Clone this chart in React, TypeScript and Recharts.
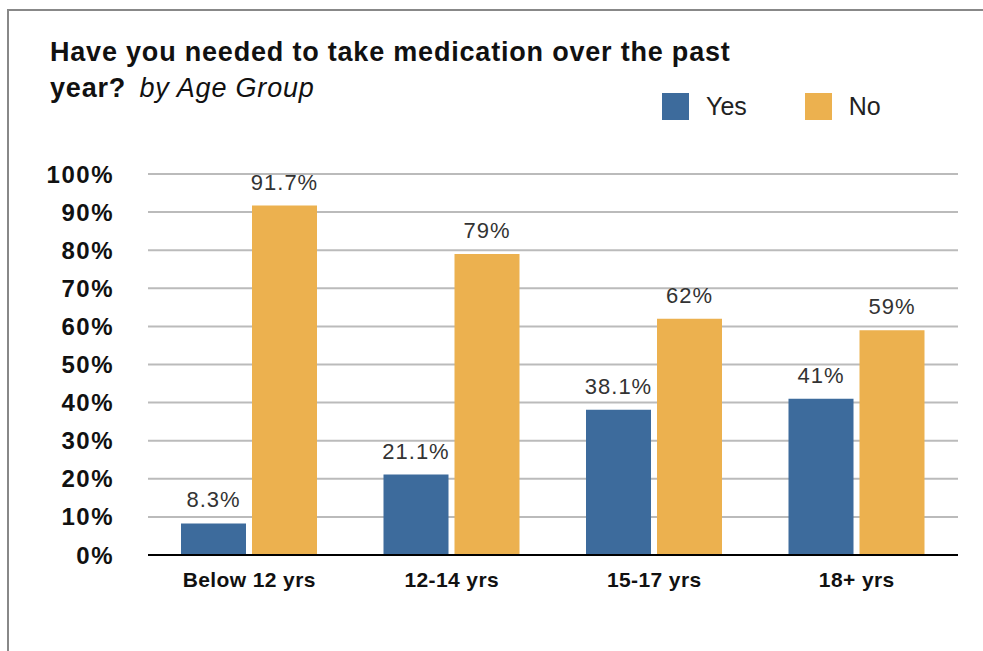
import { BarChart, Bar, CartesianGrid, XAxis, YAxis, LabelList } from "recharts";

const ageGroups = ["Below 12 yrs", "12-14 yrs", "15-17 yrs", "18+ yrs"];
const yesValues = [8.3, 21.1, 38.1, 41];
const noValues = [91.7, 79, 62, 59];
const percentTicks = [0, 10, 20, 30, 40, 50, 60, 70, 80, 90, 100];

const data = ageGroups.map((group, i) => ({
  group,
  yes: yesValues[i],
  no: noValues[i],
}));

const FONT = "'Liberation Sans', Helvetica, Arial, sans-serif";
const BLUE = "#3d6b9c";
const ORANGE = "#ecb14f";

function LegendBox() {
  const items = [
    { label: "Yes", color: BLUE },
    { label: "No", color: ORANGE },
  ];
  return (
    <div
      style={{
        position: "absolute",
        left: 662,
        top: 92,
        display: "flex",
        fontFamily: FONT,
        fontSize: 25,
        color: "#222",
      }}
    >
      {items.map((it) => (
        <div key={it.label} style={{ display: "flex", alignItems: "center", marginRight: 58 }}>
          <span style={{ width: 27, height: 27, background: it.color, display: "inline-block", marginRight: 17 }} />
          <span>{it.label}</span>
        </div>
      ))}
    </div>
  );
}

export default function App() {
  return (
    <div style={{ position: "absolute", left: 0, top: 0, width: 983, height: 651, background: "#fff", overflow: "hidden" }}>
      {/* frame lines */}
      <div style={{ position: "absolute", left: 7, top: 9, right: 0, height: 2, background: "#888" }} />
      <div style={{ position: "absolute", left: 7, top: 9, bottom: 0, width: 2, background: "#888" }} />

      <div
        style={{
          position: "absolute",
          left: 50,
          top: 34,
          fontFamily: FONT,
          fontSize: 27,
          letterSpacing: 0.8,
          lineHeight: "36px",
          color: "#111",
          fontWeight: "bold",
          whiteSpace: "nowrap",
        }}
      >
        Have you needed to take medication over the past
        <br />
        year?{" "}
        <span style={{ fontWeight: "normal", fontStyle: "italic", marginLeft: 5 }}>by Age Group</span>
      </div>

      <LegendBox />

      <div style={{ position: "absolute", left: 0, top: 0 }}>
        <BarChart
          width={983}
          height={651}
          data={data}
          margin={{ top: 174, right: 25, bottom: 56, left: 48 }}
          barCategoryGap={33}
          barGap={6}
        >
          <CartesianGrid vertical={false} stroke="#bbb" strokeWidth={2} />
          <XAxis
            dataKey="group"
            axisLine={{ stroke: "#000", strokeWidth: 2 }}
            tickLine={false}
            tickSize={0}
            tickMargin={17}
            height={40}
            tick={{ fontFamily: FONT, fontSize: 21, fill: "#111", fontWeight: "bold", letterSpacing: 0.4 }}
          />
          <YAxis
            domain={[0, 100]}
            ticks={percentTicks}
            tickFormatter={(v) => `${v}%`}
            axisLine={false}
            tickLine={false}
            tickSize={0}
            tickMargin={34}
            width={100}
            tick={{ fontFamily: FONT, fontSize: 24, fill: "#111", fontWeight: "bold", letterSpacing: 1.5 }}
          />
          <Bar dataKey="yes" name="Yes" fill={BLUE} isAnimationActive={false}>
            <LabelList
              dataKey="yes"
              position="top"
              offset={16}
              formatter={(v: any) => `${v}%`}
              style={{ fontFamily: FONT, fontSize: 22, fill: "#333", letterSpacing: 1 }}
            />
          </Bar>
          <Bar dataKey="no" name="No" fill={ORANGE} isAnimationActive={false}>
            <LabelList
              dataKey="no"
              position="top"
              offset={16}
              formatter={(v: any) => `${v}%`}
              style={{ fontFamily: FONT, fontSize: 22, fill: "#333", letterSpacing: 1 }}
            />
          </Bar>
        </BarChart>
      </div>
    </div>
  );
}
